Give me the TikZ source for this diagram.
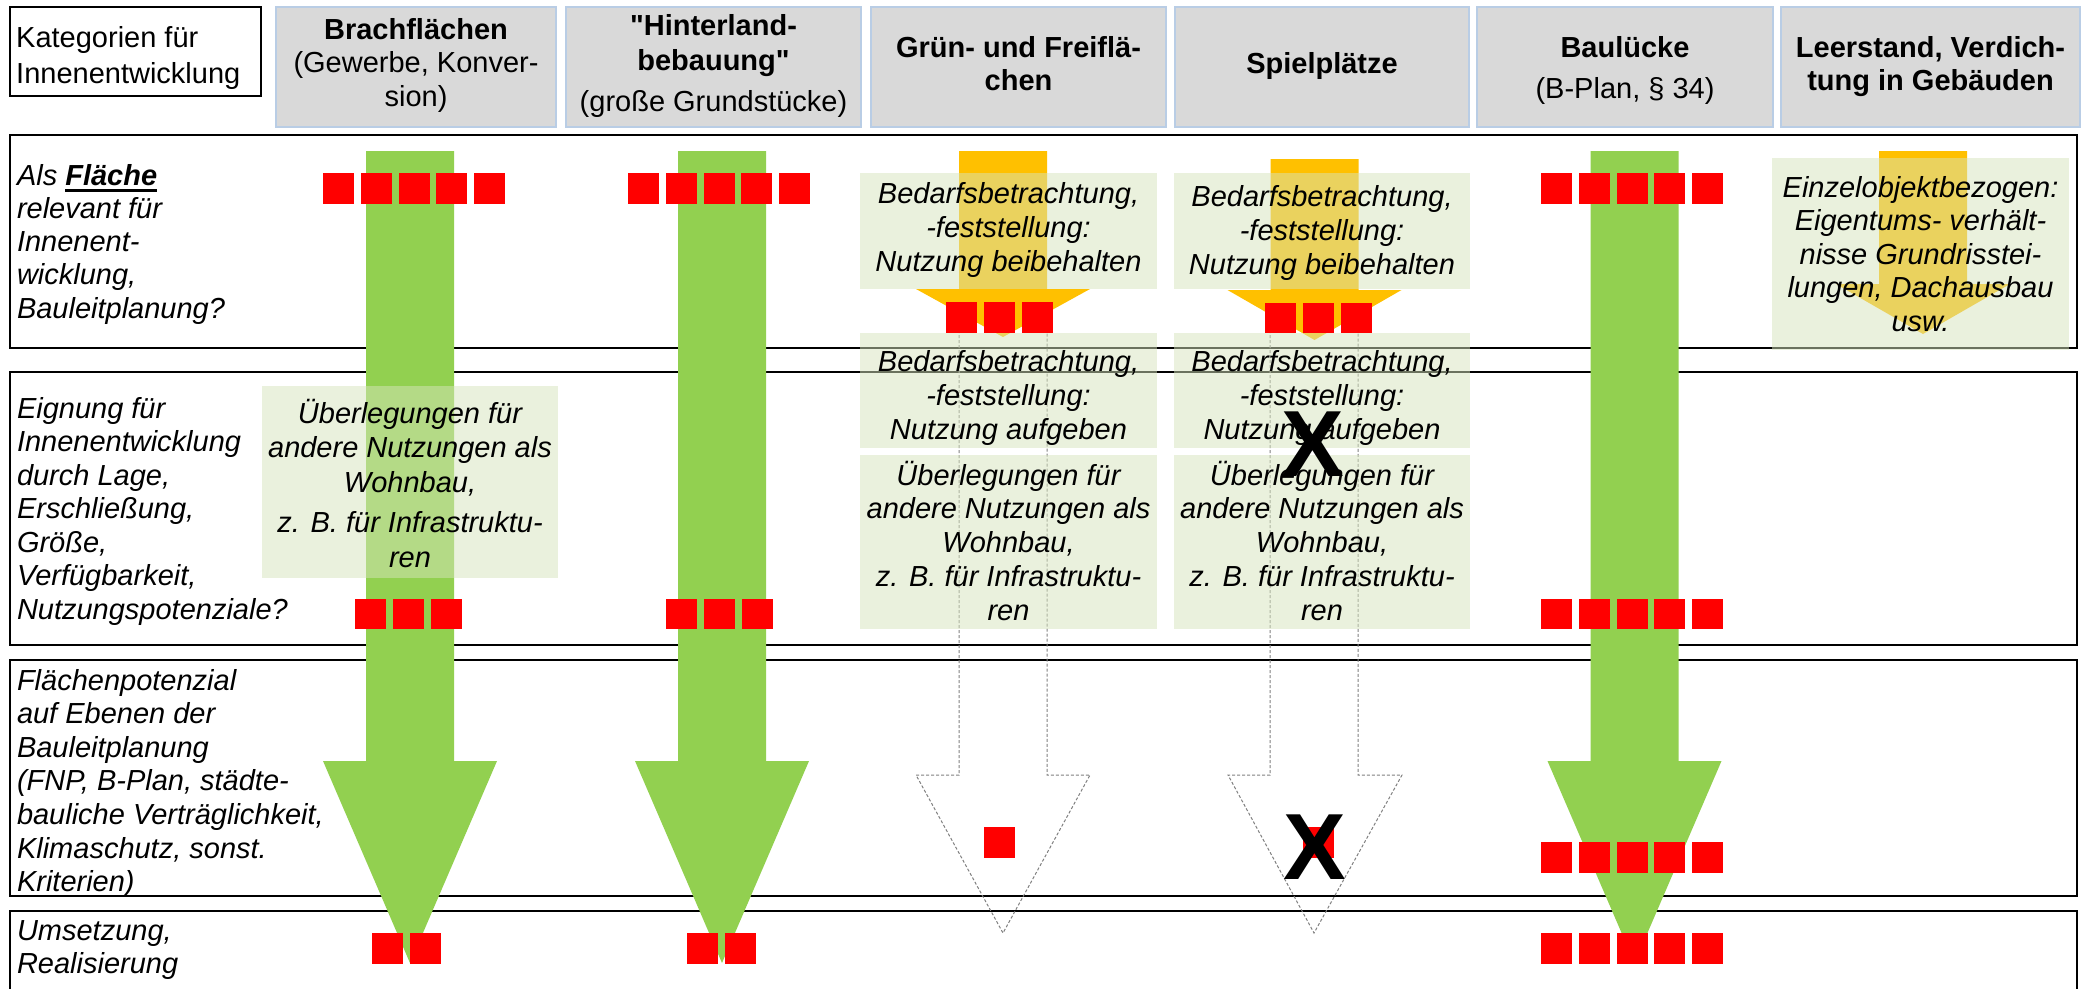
\documentclass[tikz,border=0pt]{standalone}
\usepackage{fontspec}
\setmainfont{Liberation Sans}
\definecolor{hdrgray}{HTML}{D9D9D9}
\definecolor{hdrblue}{HTML}{B9CDE5}
\definecolor{grn}{HTML}{92D050}
\definecolor{ylw}{HTML}{FFC000}
\definecolor{sqred}{HTML}{FF0000}
\definecolor{boxgreen}{HTML}{D7E4BD}
\definecolor{dashgray}{HTML}{808080}
\newcommand\mystrut{\rule{0pt}{28pt}}
\newcommand\myul[1]{\setbox0\hbox{#1}\rlap{\rule[-6.5pt]{\wd0}{3pt}}\box0}
\newcommand\sq{\XeTeXglyph\XeTeXcharglyph"22\relax}
\begin{document}
\begin{tikzpicture}[x=1pt,y=-1pt,
  rowbox/.style={draw=black, line width=2.5pt, fill=white},
  hdrbox/.style={draw=hdrblue, line width=1.5pt, fill=hdrgray},
  lbox/.style={fill=boxgreen, fill opacity=0.5},
  redsq/.style={fill=sqred},
  garrow/.style={fill=grn},
  yarrow/.style={fill=ylw},
  darrow/.style={draw=dashgray, line width=1pt, dash pattern=on 3pt off 2pt},
  htxt/.style={inner sep=0pt, outer sep=0pt, anchor=north, align=center, font=\fontsize{29}{33.5}\selectfont},
  btxt/.style={inner sep=0pt, outer sep=0pt, anchor=north, align=center, font=\fontsize{29}{34}\selectfont\itshape},
  lab/.style={inner sep=0pt, outer sep=0pt, anchor=north west, align=left, font=\fontsize{29}{33.5}\selectfont\itshape},
  bigx/.style={inner sep=0pt, outer sep=0pt, font=\fontsize{94}{94}\selectfont\bfseries}]
\useasboundingbox (0,0) rectangle (2087,988);

% header
\draw[black, line width=2pt, fill=white] (10,7) rectangle (261,96);
\node[inner sep=0pt, anchor=north west, align=left, font=\fontsize{29}{36}\selectfont] (h0) at (16,19) {\mystrut Kategorien für\\Innenentwicklung};
\draw[hdrbox] (276,7) rectangle (556,127);
\draw[hdrbox] (566,7) rectangle (861,127);
\draw[hdrbox] (871,7) rectangle (1166,127);
\draw[hdrbox] (1175,7) rectangle (1469,127);
\draw[hdrbox] (1477,7) rectangle (1773,127);
\draw[hdrbox] (1781,7) rectangle (2080,127);
\node[htxt] (h1) at (416,11) {\mystrut\textbf{Brachflächen}\\(Gewerbe, Konver-\\sion)};
\node[htxt, font=\fontsize{29}{35}\selectfont] (h2) at (713.5,7) {\mystrut\textbf{\sq Hinterland-}\\\textbf{bebauung\sq}\\[6pt](große Grundstücke)};
\node[htxt] (h3) at (1018.5,29) {\mystrut\textbf{Grün- und Freiflä-}\\\textbf{chen}};
\node[htxt] (h4) at (1322,45) {\mystrut\textbf{Spielplätze}};
\node[htxt] (h5) at (1625,29) {\mystrut\textbf{Baulücke}\\[8pt](B-Plan, § 34)};
\node[htxt] (h6) at (1930.5,29) {\mystrut\textbf{Leerstand, Verdich-}\\\textbf{tung in Gebäuden}};

% rows
\draw[rowbox] (10,135) rectangle (2077,348);
\draw[rowbox] (10,372) rectangle (2077,645);
\draw[rowbox] (10,660) rectangle (2077,896);
\draw[rowbox] (10,911) rectangle (2077,1010);

\node[lab, font=\fontsize{29}{33.3}\selectfont\itshape] (l1) at (17,157) {\mystrut Als \myul{\textbf{Fläche}}\\relevant für\\Innenent-\\wicklung,\\Bauleitplanung?};
\node[lab] (l2) at (17,390) {\mystrut Eignung für\\Innenentwicklung\\durch Lage,\\Erschließung,\\Größe,\\Verfügbarkeit,\\Nutzungspotenziale?};
\node[lab, font=\fontsize{29}{33.6}\selectfont\itshape] (l3) at (17,662) {\mystrut Flächenpotenzial\\auf Ebenen der\\Bauleitplanung\\(FNP, B-Plan, städte-\\bauliche Verträglichkeit,\\Klimaschutz, sonst.\\Kriterien)};
\node[lab, font=\fontsize{29}{33}\selectfont\itshape] (l4) at (17,912) {\mystrut Umsetzung,\\Realisierung};

% dashed outline arrows
\draw[darrow] (959,315) -- (959,775) -- (916,775) -- (1003,933) -- (1090,775) -- (1047,775) -- (1047,315) -- cycle;
\draw[darrow] (1270,315) -- (1270,775) -- (1228,775) -- (1314,933) -- (1402,775) -- (1358,775) -- (1358,315) -- cycle;

% green arrows
\foreach \c in {410,722,1634.5}
  \fill[garrow] ({\c-44},151) -- ({\c+44},151) -- ({\c+44},761) -- ({\c+87},761) -- (\c,963) -- ({\c-87},761) -- ({\c-44},761) -- cycle;

% yellow arrows
\fill[yarrow] (959,151) -- (1047,151) -- (1047,289) -- (1090,289) -- (1003,337) -- (916,289) -- (959,289) -- cycle;
\fill[yarrow] (1270.5,159) -- (1358.5,159) -- (1358.5,290) -- (1401.5,290) -- (1314.5,340) -- (1227.5,290) -- (1270.5,290) -- cycle;
\fill[yarrow] (1879,151) -- (1967,151) -- (1967,284) -- (2010,284) -- (1923,334) -- (1836,284) -- (1879,284) -- cycle;

% light boxes
\fill[lbox] (262,386) rectangle (558,578);
\fill[lbox] (860,173) rectangle (1157,289);
\fill[lbox] (860,333) rectangle (1157,448);
\fill[lbox] (860,455) rectangle (1157,629);
\fill[lbox] (1174,173) rectangle (1470,289);
\fill[lbox] (1174,333) rectangle (1470,448);
\fill[lbox] (1174,455) rectangle (1470,629);
\fill[lbox] (1772,158) rectangle (2069,350);

\node[btxt, font=\fontsize{29}{34.5}\selectfont\itshape] (t1) at (410,395) {\mystrut Überlegungen für\\andere Nutzungen als\\Wohnbau,\\[6pt]z. B. für Infrastruktu-\\ren};
\node[btxt] (t3a) at (1008.5,175) {\mystrut Bedarfsbetrachtung,\\-feststellung:\\Nutzung beibehalten};
\node[btxt] (t4a) at (1322,178) {\mystrut Bedarfsbetrachtung,\\-feststellung:\\Nutzung beibehalten};
\node[btxt] (t3b) at (1008.5,343) {\mystrut Bedarfsbetrachtung,\\-feststellung:\\Nutzung aufgeben};
\node[btxt] (t4b) at (1322,343) {\mystrut Bedarfsbetrachtung,\\-feststellung:\\Nutzung aufgeben};
\node[btxt, font=\fontsize{29}{33.75}\selectfont\itshape] (t3c) at (1008.5,457) {\mystrut Überlegungen für\\andere Nutzungen als\\Wohnbau,\\z. B. für Infrastruktu-\\ren};
\node[btxt, font=\fontsize{29}{33.75}\selectfont\itshape] (t4c) at (1322,457) {\mystrut Überlegungen für\\andere Nutzungen als\\Wohnbau,\\z. B. für Infrastruktu-\\ren};
\node[btxt, font=\fontsize{29}{33.5}\selectfont\itshape] (t6) at (1920.5,169) {\mystrut Einzelobjektbezogen:\\Eigentums- verhält-\\nisse Grundrisstei-\\lungen, Dachausbau\\usw.};

% red squares
\foreach \i in {0,...,4} {
  \fill[redsq] ({323+37.75*\i},173) rectangle ++(31,31);
  \fill[redsq] ({628+37.75*\i},173) rectangle ++(31,31);
  \fill[redsq] ({1541+37.75*\i},173) rectangle ++(31,31);
  \fill[redsq] ({1541+37.75*\i},599) rectangle ++(31,30);
  \fill[redsq] ({1541+37.75*\i},842) rectangle ++(31,31);
  \fill[redsq] ({1541+37.75*\i},933) rectangle ++(31,31);
}
\foreach \i in {0,1,2} {
  \fill[redsq] ({946+38*\i},302) rectangle ++(31,31);
  \fill[redsq] ({1265+38*\i},303) rectangle ++(31,30);
  \fill[redsq] ({355+38*\i},599) rectangle ++(31,30);
  \fill[redsq] ({666+38*\i},599) rectangle ++(31,30);
}
\fill[redsq] (984,827) rectangle ++(31,31);
\fill[redsq] (1303,827) rectangle ++(31,31);
\fill[redsq] (372,933) rectangle ++(31,31);
\fill[redsq] (410,933) rectangle ++(31,31);
\fill[redsq] (687,933) rectangle ++(31,31);
\fill[redsq] (725,933) rectangle ++(31,31);

% crosses
\node[bigx] (x1) at (1313,444) {X};
\node[bigx] (x2) at (1315,847.5) {X};
\end{tikzpicture}
\end{document}
